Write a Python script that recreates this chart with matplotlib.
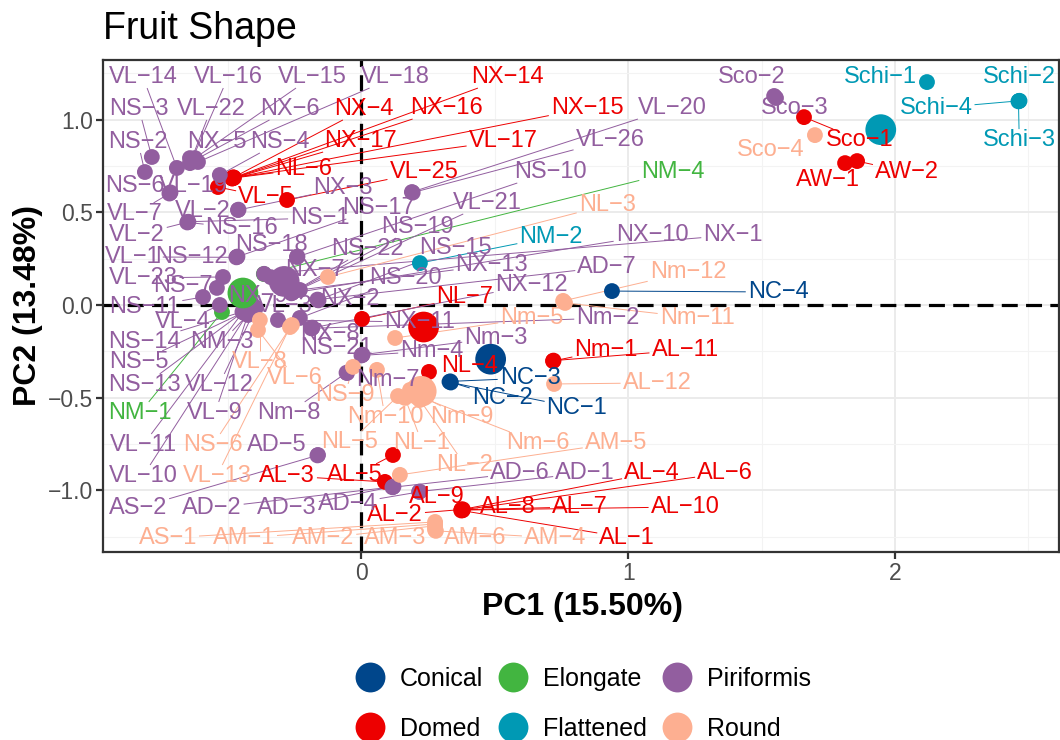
import numpy as np
import pandas as pd
import matplotlib
matplotlib.use("Agg")
import matplotlib.pyplot as plt
from matplotlib.lines import Line2D

plt.rcParams['font.family'] = ['Liberation Sans', 'DejaVu Sans']

shape_order = ['Conical', 'Domed', 'Elongate', 'Flattened', 'Piriformis', 'Round']
shape_colors = ['#00468B', '#ED0000', '#42B540', '#0099B4', '#925E9F', '#FDAF91']

# ---- sample scores (PC1, PC2) and label spots, one block per fruit shape ----
conical_names = ['NC-1', 'NC-2', 'NC-3', 'NC-4']
conical_pc1 = [0.335, 0.330, 0.333, 0.939]
conical_pc2 = [-0.418, -0.414, -0.412, 0.075]
conical_lx = [0.808, 0.527, 0.632, 1.562]
conical_ly = [-0.555, -0.501, -0.394, 0.070]

domed_names = ['NX-14', 'NX-4', 'NX-16', 'NX-15', 'NX-17', 'VL-17', 'NL-6', 'VL-25', 'VL-5',
               'NL-7', 'Nm-1', 'AL-11', 'NL-4', 'AL-3', 'AL-5', 'AL-9', 'AL-2', 'AL-8', 'AL-7',
               'AL-10', 'AL-1', 'AL-4', 'AL-6', 'Sco-1', 'AW-1', 'AW-2']
domed_pc1 = [-0.482, -0.480, -0.484, -0.478, -0.485, -0.481, -0.483, -0.279, -0.538,
             0.002, 0.718, 0.720, 0.253, 0.088, 0.118, 0.377, 0.375, 0.379, 0.376,
             0.378, 0.374, 0.380, 0.377, 1.659, 1.813, 1.858]
domed_pc2 = [0.685, 0.688, 0.683, 0.686, 0.682, 0.687, 0.684, 0.566, 0.636,
             -0.075, -0.302, -0.300, -0.361, -0.954, -0.809, -1.105, -1.103, -1.107, -1.104,
             -1.106, -1.108, -1.102, -1.105, 1.013, 0.765, 0.776]
domed_lx = [0.549, 0.009, 0.317, 0.846, -0.002, 0.531, -0.216, 0.234, -0.358,
            0.388, 0.917, 1.213, 0.407, -0.279, -0.024, 0.283, 0.126, 0.549, 0.819,
            1.213, 0.996, 1.089, 1.363, 1.869, 1.749, 2.045]
domed_ly = [1.229, 1.057, 1.062, 1.062, 0.884, 0.884, 0.733, 0.717, 0.582,
            0.043, -0.243, -0.243, -0.329, -0.922, -0.916, -1.035, -1.132, -1.089, -1.089,
            -1.089, -1.256, -0.906, -0.906, 0.889, 0.674, 0.717]

elongate_names = ['NM-1', 'NM-4']
elongate_pc1 = [-0.523, -0.366]
elongate_pc2 = [-0.038, 0.167]
elongate_lx = [-0.831, 1.168]
elongate_ly = [-0.582, 0.717]

flattened_names = ['Schi-1', 'Schi-2', 'Schi-3', 'Schi-4', 'NM-2']
flattened_pc1 = [2.120, 2.465, 2.463, 2.467, 0.219]
flattened_pc2 = [1.202, 1.100, 1.098, 1.101, 0.226]
flattened_lx = [1.944, 2.466, 2.466, 2.154, 0.711]
flattened_ly = [1.229, 1.229, 0.889, 1.062, 0.367]

piri_names = ['VL-14', 'VL-16', 'VL-15', 'VL-18', 'NS-3', 'VL-22', 'NX-6', 'VL-20', 'NS-2',
              'NX-5', 'NS-4', 'VL-26', 'NS-10', 'NS-6', 'VL-19', 'NX-3', 'VL-7', 'VL-2',
              'VL-2', 'NS-17', 'NS-1', 'VL-21', 'VL-1', 'NS-12', 'NS-16', 'NS-18', 'NS-19',
              'NS-22', 'NS-15', 'NX-10', 'NX-1', 'VL-23', 'NX-7', 'NX-13', 'NS-20', 'AD-7',
              'NX-12', 'NS-7', 'NX-9', 'NS-11', 'VL-3', 'NX-2', 'VL-4', 'NS-14', 'NM-3',
              'NX-8', 'NS-21', 'NS-5', 'NX-11', 'Nm-2', 'Nm-3', 'Nm-4', 'NS-13', 'VL-12',
              'Nm-7', 'VL-9', 'Nm-8', 'VL-11', 'AD-5', 'VL-10', 'AS-2', 'AD-2', 'AD-3',
              'AD-4', 'AD-6', 'AD-1', 'Sco-2', 'Sco-3']
piri_pc1 = [-0.692, -0.636, -0.624, -0.613, -0.786, -0.643, -0.632, 0.189, -0.812,
            -0.643, -0.531, 0.192, -0.242, -0.718, -0.716, -0.463, -0.720, -0.461,
            -0.651, -0.467, -0.649, -0.261, -0.469, -0.465, -0.653, -0.240, -0.259,
            -0.257, -0.163, -0.263, -0.365, -0.519, -0.340, -0.231, -0.231, -0.165,
            -0.186, -0.542, -0.399, -0.594, -0.444, -0.161, -0.531, -0.446, -0.401,
            -0.184, 0.002, -0.442, -0.313, -0.188, 0.004, 0.000, -0.443, -0.397,
            -0.054, -0.426, -0.056, -0.445, -0.163, -0.418, -0.165, 0.118, 0.120,
            0.216, 0.116, 0.218, 1.547, 1.554]
piri_pc2 = [0.739, 0.782, 0.792, 0.771, 0.798, 0.765, 0.776, 0.609, 0.717,
            0.792, 0.701, 0.606, 0.259, 0.604, 0.607, 0.512, 0.601, 0.514,
            0.447, 0.259, 0.449, 0.065, 0.257, 0.261, 0.445, 0.261, 0.067,
            0.070, 0.027, 0.063, 0.168, 0.151, 0.150, 0.081, -0.070, 0.029,
            -0.124, 0.092, -0.016, 0.043, -0.038, 0.025, 0.000, -0.036, -0.014,
            -0.122, -0.270, -0.040, -0.081, -0.126, -0.268, -0.272, -0.037, -0.018,
            -0.367, -0.054, -0.365, -0.039, -0.809, -0.027, -0.811, -0.981, -0.979,
            -1.008, -0.983, -1.006, 1.127, 1.116]
piri_lx = [-0.819, -0.500, -0.186, 0.126, -0.834, -0.564, -0.268, 1.164, -0.838,
           -0.542, -0.306, 0.932, 0.707, -0.849, -0.632, -0.069, -0.849, -0.594,
           -0.842, 0.062, -0.156, 0.471, -0.857, -0.636, -0.448, -0.336, 0.208,
           0.021, 0.351, 1.089, 1.393, -0.819, -0.174, 0.489, 0.163, 0.921,
           0.639, -0.669, -0.388, -0.812, -0.287, -0.043, -0.669, -0.812, -0.523,
           -0.118, -0.092, -0.834, 0.219, 0.924, 0.504, 0.264, -0.812, -0.534,
           0.099, -0.549, -0.272, -0.819, -0.317, -0.819, -0.838, -0.561, -0.279,
           -0.051, 0.594, 0.838, 1.464, 1.625]
piri_ly = [1.229, 1.229, 1.229, 1.229, 1.057, 1.057, 1.057, 1.062, 0.879,
           0.879, 0.879, 0.889, 0.717, 0.642, 0.642, 0.631, 0.491, 0.507,
           0.377, 0.523, 0.469, 0.550, 0.259, 0.259, 0.415, 0.323, 0.420,
           0.302, 0.307, 0.377, 0.377, 0.146, 0.189, 0.216, 0.146, 0.205,
           0.108, 0.102, 0.049, -0.011, -0.005, 0.032, -0.092, -0.199, -0.199,
           -0.156, -0.232, -0.307, -0.092, -0.070, -0.178, -0.248, -0.431, -0.431,
           -0.404, -0.582, -0.582, -0.755, -0.755, -0.922, -1.094, -1.094, -1.094,
           -1.073, -0.906, -0.906, 1.229, 1.062]

round_names = ['Sco-4', 'Nm-12', 'Nm-11', 'AL-12', 'NL-3', 'VL-8', 'VL-6', 'NS-6', 'VL-13',
               'Nm-5', 'NS-9', 'Nm-10', 'Nm-9', 'Nm-6', 'NL-5', 'NL-1', 'NL-2', 'AM-5',
               'AS-1', 'AM-1', 'AM-2', 'AM-3', 'AM-6', 'AM-4']
round_pc1 = [1.700, 0.756, 0.763, 0.722, -0.126, -0.381, -0.388, -0.261, -0.268,
             0.126, -0.032, 0.058, 0.182, 0.201, 0.137, 0.163, 0.219, 0.144,
             0.276, 0.276, 0.276, 0.276, 0.276, 0.279]
round_pc2 = [0.916, 0.022, 0.011, -0.426, 0.151, -0.081, -0.135, -0.108, -0.119,
             -0.178, -0.334, -0.350, -0.458, -0.485, -0.491, -0.501, -0.512, -0.916,
             -1.170, -1.181, -1.191, -1.202, -1.213, -1.218]
round_lx = [1.535, 1.224, 1.258, 1.108, 0.921, -0.381, -0.249, -0.557, -0.542,
            0.639, -0.062, 0.088, 0.377, 0.662, -0.043, 0.227, 0.388, 0.954,
            -0.726, -0.441, -0.144, 0.126, 0.426, 0.726]
round_ly = [0.836, 0.178, -0.070, -0.420, 0.539, -0.307, -0.394, -0.755, -0.922,
            -0.070, -0.485, -0.604, -0.604, -0.744, -0.739, -0.744, -0.863, -0.744,
            -1.256, -1.256, -1.256, -1.256, -1.256, -1.256]

blocks = [
    ('Conical', conical_names, conical_pc1, conical_pc2, conical_lx, conical_ly),
    ('Domed', domed_names, domed_pc1, domed_pc2, domed_lx, domed_ly),
    ('Elongate', elongate_names, elongate_pc1, elongate_pc2, elongate_lx, elongate_ly),
    ('Flattened', flattened_names, flattened_pc1, flattened_pc2, flattened_lx, flattened_ly),
    ('Piriformis', piri_names, piri_pc1, piri_pc2, piri_lx, piri_ly),
    ('Round', round_names, round_pc1, round_pc2, round_lx, round_ly),
]
frames = []
for shape, names, x, y, lx, ly in blocks:
    frames.append(pd.DataFrame({'sample': names, 'shape': shape, 'pc1': x, 'pc2': y,
                                'lab_x': lx, 'lab_y': ly}))
df = pd.concat(frames, ignore_index=True)
color_of = dict(zip(shape_order, shape_colors))

fig = plt.figure(figsize=(10.6, 7.4), dpi=100)
ax = fig.add_axes([103 / 1060, 1 - 552 / 740, (1059 - 103) / 1060, (552 - 60) / 740])
ax.set_xlim(-0.969, 2.615)
ax.set_ylim(-1.332, 1.321)

ax.set_xticks([0, 1, 2])
ax.set_yticks([-1, -0.5, 0, 0.5, 1])
ax.set_yticklabels(['\u22121.0', '\u22120.5', '0.0', '0.5', '1.0'])
ax.set_xticks([-0.5, 0.5, 1.5, 2.5], minor=True)
ax.set_yticks([-1.25, -0.75, -0.25, 0.25, 0.75, 1.25], minor=True)
ax.grid(which='major', color='#EBEBEB', lw=1.4)
ax.grid(which='minor', color='#F3F3F3', lw=0.8)
ax.set_axisbelow(True)
ax.tick_params(which='minor', length=0)
ax.tick_params(which='major', length=5, width=1.6, color='#333333',
               labelsize=16.5, labelcolor='#4D4D4D', pad=2)
for sp in ax.spines.values():
    sp.set_color('#333333')
    sp.set_linewidth(1.6)

ax.axhline(0, color='black', lw=2.3, ls=(0, (5, 2.6)), zorder=2)
ax.axvline(0, color='black', lw=2.3, ls=(0, (5, 2.6)), zorder=2)

# samples
for shape in shape_order:
    sub = df[df['shape'] == shape]
    ax.scatter(sub['pc1'], sub['pc2'], s=130, color=color_of[shape],
               edgecolors='none', zorder=3)

# group centroids
cent = df.groupby('shape')[['pc1', 'pc2']].mean()
ax.scatter(cent['pc1'], cent['pc2'], s=490,
           color=[color_of[g] for g in cent.index], edgecolors='none', zorder=4)

# labels
texts = []
for _, row in df.iterrows():
    t = ax.text(row['lab_x'], row['lab_y'], row['sample'].replace('-', '\u2212'),
                color=color_of[row['shape']], fontsize=17, ha='center', va='center',
                zorder=6)
    texts.append(t)

# connector segments from point to label box
fig.canvas.draw()
renderer = fig.canvas.get_renderer()
inv = ax.transData.inverted()
for t, (_, row) in zip(texts, df.iterrows()):
    bb = t.get_window_extent(renderer)
    px, py = ax.transData.transform((row['pc1'], row['pc2']))
    cx, cy = (bb.x0 + bb.x1) / 2, (bb.y0 + bb.y1) / 2
    hw, hh = bb.width / 2 + 2, bb.height / 2
    dx, dy = px - cx, py - cy
    if abs(dx) <= hw and abs(dy) <= hh:
        continue
    sx = hw / abs(dx) if dx != 0 else np.inf
    sy = hh / abs(dy) if dy != 0 else np.inf
    s = min(sx, sy)
    ex, ey = cx + s * dx, cy + s * dy
    if np.hypot(px - ex, py - ey) < 14:
        continue
    a, b = inv.transform([(px, py), (ex, ey)])
    ax.plot([a[0], b[0]], [a[1], b[1]], color=color_of[row['shape']], lw=0.7,
            zorder=2.5, solid_capstyle='butt')

fig.text(103 / 1060, 1 - 39 / 740, 'Fruit Shape', fontsize=27, ha='left', va='baseline')
fig.text(583 / 1060, 1 - 607 / 740, 'PC1 (15.50%)', fontsize=23, fontweight='bold',
         ha='center', va='center')
fig.text(28 / 1060, 1 - 306 / 740, 'PC2 (13.48%)', fontsize=23, fontweight='bold',
         ha='center', va='center', rotation=90)

handles = [Line2D([], [], marker='o', ls='', markersize=21.5, color=c,
                  markeredgecolor='none', label=g)
           for g, c in zip(shape_order, shape_colors)]
fig.legend(handles=handles, loc='center', bbox_to_anchor=(583 / 1060, 1 - 704 / 740),
           ncol=3, frameon=False, fontsize=18, handlelength=1.2, handletextpad=0.6,
           columnspacing=0.6, labelspacing=1.05, borderpad=0)

fig.savefig('out.png', dpi=100)
